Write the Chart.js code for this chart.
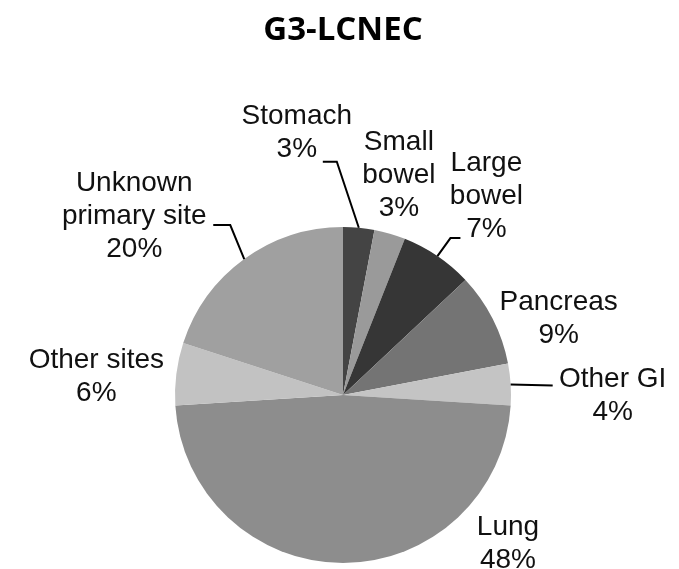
<!DOCTYPE html>
<html>
<head>
<meta charset="utf-8">
<script src="https://cdn.jsdelivr.net/npm/chart.js@4.4.0/dist/chart.umd.min.js"></script>
<style>
  html, body { margin: 0; padding: 0; background: #ffffff; }
  #wrap { width: 679px; height: 569px; position: relative; }
</style>
</head>
<body>
<div id="wrap"><canvas id="siteChart"></canvas></div>
<script>
// Chart data
const chartTitle = 'G3-LCNEC';
const categories = ['Stomach', 'Small bowel', 'Large bowel', 'Pancreas', 'Other GI', 'Lung', 'Other sites', 'Unknown primary site'];
const percentages = [3, 3, 7, 9, 4, 48, 6, 20];
const labelLines = [
    ['Stomach'],
    ['Small', 'bowel'],
    ['Large', 'bowel'],
    ['Pancreas'],
    ['Other GI'],
    ['Lung'],
    ['Other sites'],
    ['Unknown', 'primary site']
];
const sliceColors = ['#444444', '#9a9a9a', '#363636', '#747474', '#c4c4c4', '#8d8d8d', '#c2c2c2', '#a0a0a0'];

// label placement relative to the outer midpoint of each slice
const labelOffsets = [[-62, -95], [9, -58], [49, -60], [66, 0], [102, 11], [165, -19], [-80, 3], [-110, -43]];
const leaderPaths = [
    [[-22, -66], [-36, -66]],
    [],
    [[13, -18], [23, -18]],
    [],
    [[42, 1]],
    [],
    [],
    [[-14, -34], [-31, -34]]
];

const pieLabels = {
    id: 'pieLabels',
    afterDatasetsDraw(chart) {
        const ctx = chart.ctx;
        const meta = chart.getDatasetMeta(0);
        ctx.save();

        // title
        ctx.fillStyle = '#000000';
        ctx.font = 'bold 33px "Open Sans", sans-serif';
        ctx.textAlign = 'center';
        ctx.textBaseline = 'middle';
        ctx.fillText(chartTitle, 343, 31);

        meta.data.forEach(function (arc, i) {
            const mid = (arc.startAngle + arc.endAngle) / 2;
            const px = arc.x + arc.outerRadius * Math.cos(mid);
            const py = arc.y + arc.outerRadius * Math.sin(mid);

            // leader line
            if (leaderPaths[i].length > 0) {
                ctx.strokeStyle = '#000000';
                ctx.lineWidth = 2;
                ctx.beginPath();
                ctx.moveTo(px, py);
                leaderPaths[i].forEach(function (p) {
                    ctx.lineTo(px + p[0], py + p[1]);
                });
                ctx.stroke();
            }

            // label text
            const lines = labelLines[i].concat([percentages[i] + '%']);
            const cx = px + labelOffsets[i][0];
            const cy = py + labelOffsets[i][1];
            const lh = 33;
            ctx.fillStyle = '#111111';
            ctx.font = '28px "Liberation Sans", Arial, sans-serif';
            lines.forEach(function (t, k) {
                ctx.fillText(t, cx, cy + (k - (lines.length - 1) / 2) * lh);
            });
        });
        ctx.restore();
    }
};

const siteChart = new Chart(document.getElementById('siteChart'), {
    type: 'pie',
    data: {
        labels: categories,
        datasets: [{
            data: percentages,
            backgroundColor: sliceColors,
            borderWidth: 0
        }]
    },
    options: {
        responsive: true,
        maintainAspectRatio: false,
        animation: false,
        layout: {
            padding: { top: 227, bottom: 6, left: 175, right: 168 }
        },
        plugins: {
            legend: { display: false },
            tooltip: { enabled: false }
        }
    },
    plugins: [pieLabels]
});
</script>
</body>
</html>
